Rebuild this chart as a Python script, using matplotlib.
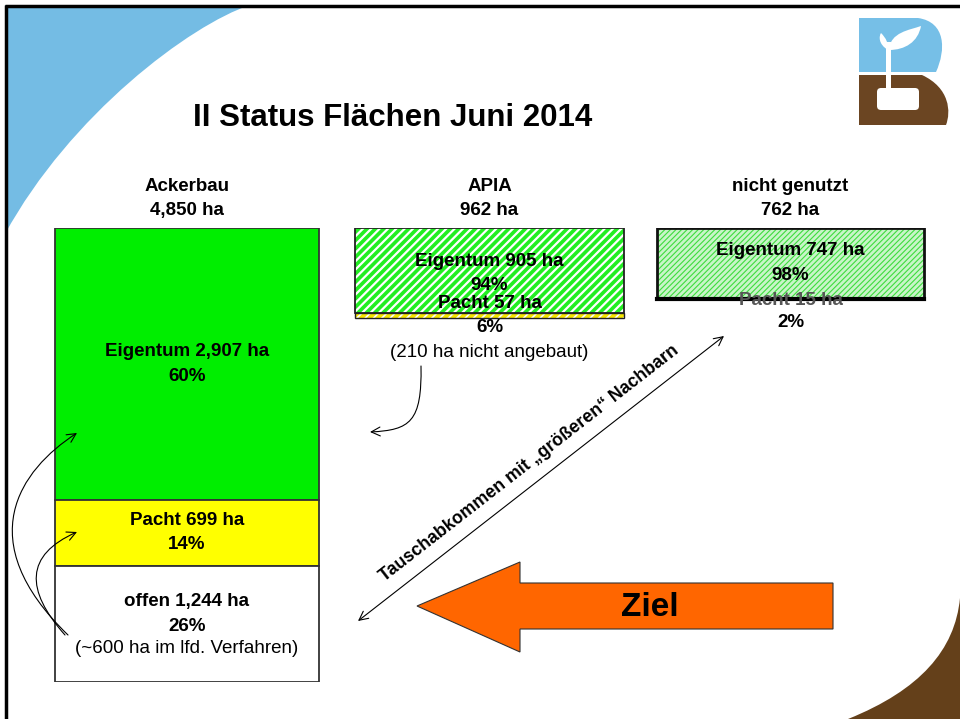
import matplotlib
matplotlib.use("Agg")
import matplotlib.pyplot as plt
import matplotlib.patches as patches
from matplotlib.path import Path

plt.rcParams['font.family'] = ['Liberation Sans', 'DejaVu Sans']

# Data (hectares)
categories = ['Ackerbau', 'APIA', 'nicht genutzt']
totals = [4850, 962, 762]
eigentum = [2907, 905, 747]
pacht = [699, 57, 15]
offen = [1244, 0, 0]
eig_pct = [60, 94, 98]
pacht_pct = [14, 6, 2]
offen_pct = [26, 0, 0]
notes = ['(~600 ha im lfd. Verfahren)', '(210 ha nicht angebaut)', '']

W, H = 960, 719
FS = 13.5
fig = plt.figure(figsize=(9.6, 7.19), dpi=100)

# ---- background / slide decoration (pixel coordinates) ----
bg = fig.add_axes([0, 0, 1, 1])
bg.set_xlim(0, W)
bg.set_ylim(H, 0)
bg.axis('off')

blue = '#74bce4'
brown = '#64401a'

corner = Path([(5, 5), (250, 5), (190, 25), (70, 115), (5, 234), (5, 5)],
              [Path.MOVETO, Path.LINETO, Path.CURVE4, Path.CURVE4, Path.CURVE4, Path.CLOSEPOLY])
bg.add_patch(patches.PathPatch(corner, facecolor=blue, edgecolor='none'))
corner2 = Path([(960, 598), (955, 650), (920, 690), (848, 719), (960, 719), (960, 598)],
               [Path.MOVETO, Path.CURVE4, Path.CURVE4, Path.CURVE4, Path.LINETO, Path.CLOSEPOLY])
bg.add_patch(patches.PathPatch(corner2, facecolor=brown, edgecolor='none'))

# frame
bg.plot([5.5, 5.5], [5, H], color='black', lw=2.5, solid_capstyle='butt')
bg.plot([5, W], [5.5, 5.5], color='black', lw=2.5, solid_capstyle='butt')

# logo
logo_blue = Path([(859, 18), (918, 18), (946, 22), (946, 50), (936, 72), (859, 72), (859, 18)],
                 [Path.MOVETO, Path.LINETO, Path.CURVE4, Path.CURVE4, Path.LINETO, Path.LINETO, Path.CLOSEPOLY])
bg.add_patch(patches.PathPatch(logo_blue, facecolor='#76bfe7', edgecolor='none'))
logo_brown = Path([(859, 75), (922, 75), (950, 88), (951, 112), (946, 125), (859, 125), (859, 75)],
                  [Path.MOVETO, Path.LINETO, Path.CURVE4, Path.CURVE4, Path.LINETO, Path.LINETO, Path.CLOSEPOLY])
bg.add_patch(patches.PathPatch(logo_brown, facecolor='#6b4522', edgecolor='none'))
bg.add_patch(patches.Rectangle((886, 42), 5, 52, facecolor='white', edgecolor='none'))
bg.add_patch(patches.FancyBboxPatch((881, 92), 34, 14, boxstyle='round,pad=4',
                                    facecolor='white', edgecolor='none'))
leaf_r = Path([(889, 50), (890, 32), (910, 30), (921, 26), (918, 42), (905, 50), (889, 50)],
              [Path.MOVETO, Path.CURVE4, Path.CURVE4, Path.CURVE4, Path.CURVE4, Path.CURVE4, Path.CLOSEPOLY])
bg.add_patch(patches.PathPatch(leaf_r, facecolor='white', edgecolor='none'))
leaf_l = Path([(888, 50), (878, 44), (879, 36), (881, 33), (886, 38), (889, 44), (888, 50)],
              [Path.MOVETO, Path.CURVE4, Path.CURVE4, Path.CURVE4, Path.CURVE4, Path.CURVE4, Path.CLOSEPOLY])
bg.add_patch(patches.PathPatch(leaf_l, facecolor='white', edgecolor='none'))

bg.text(193, 118, 'II Status Flächen Juni 2014', fontsize=22.5, fontweight='bold',
        ha='left', va='center')

# ---- stacked bars (hectares, 0 at top) ----
centers = [187, 489.5, 790.5]
widths = [264, 269, 267]
top_px, bot_px = 228, 682
ax = fig.add_axes([0, (H - bot_px) / H, 1, (bot_px - top_px) / H])
ax.set_xlim(0, W)
ax.set_ylim(totals[0], 0)
ax.axis('off')
ax.patch.set_visible(False)

lbl = dict(ha='center', va='center', fontsize=FS, fontweight='bold', linespacing=1.55)

# Ackerbau
ax.bar(centers[0], eigentum[0], width=widths[0], bottom=0, color='#00ee00',
       edgecolor='#333333', lw=1.3)
ax.bar(centers[0], pacht[0], width=widths[0], bottom=eigentum[0], color='#ffff00',
       edgecolor='#333333', lw=1.3)
ax.bar(centers[0], offen[0], width=widths[0], bottom=eigentum[0] + pacht[0], color='white',
       edgecolor='#333333', lw=1.3)
ax.text(centers[0], eigentum[0] / 2, f'Eigentum {eigentum[0]:,} ha\n{eig_pct[0]}%', **lbl)
ax.text(centers[0], eigentum[0] + pacht[0] / 2, f'Pacht {pacht[0]} ha\n{pacht_pct[0]}%', **lbl)
y_off = eigentum[0] + pacht[0] + offen[0] / 2
ax.annotate(f'offen {offen[0]:,} ha\n{offen_pct[0]}%', (centers[0], y_off),
            xytext=(0, 7), textcoords='offset points', **lbl)
ax.annotate(notes[0], (centers[0], y_off), xytext=(0, -17.5), textcoords='offset points',
            ha='center', va='center', fontsize=FS)

# APIA
with plt.rc_context({'hatch.linewidth': 1.6}):
    ax.bar(centers[1], eigentum[1], width=widths[1], bottom=0, color='#22ee22',
           edgecolor='white', lw=0, hatch='////')
with plt.rc_context({'hatch.linewidth': 1.2}):
    ax.bar(centers[1], pacht[1], width=widths[1], bottom=eigentum[1], color='#f5e600',
           edgecolor='white', lw=0, hatch='////')
ax.bar(centers[1], eigentum[1], width=widths[1], bottom=0, fill=False, edgecolor='#222222', lw=1.3)
ax.bar(centers[1], pacht[1], width=widths[1], bottom=eigentum[1], fill=False,
       edgecolor='#222222', lw=1.0)
ax.annotate(f'Eigentum {eigentum[1]} ha\n{eig_pct[1]}%', (centers[1], 0), xytext=(0, -32.5),
            textcoords='offset points', **lbl)
y_p = eigentum[1] + pacht[1] / 2
ax.annotate(f'Pacht {pacht[1]} ha\n{pacht_pct[1]}%', (centers[1], y_p), xytext=(0, 0),
            textcoords='offset points', **lbl)
ax.annotate(notes[1], (centers[1], y_p), xytext=(0, -27), textcoords='offset points',
            ha='center', va='center', fontsize=FS)

# nicht genutzt
ax.annotate(f'Pacht {pacht[2]} ha', (centers[2], totals[2]), xytext=(0, -0.5),
            textcoords='offset points', color='#555555', **lbl)
with plt.rc_context({'hatch.linewidth': 0.8}):
    ax.bar(centers[2], eigentum[2], width=widths[2], bottom=0, color='#c8f5c8',
           edgecolor='#3ddc3d', lw=0, hatch='//////')
ax.bar(centers[2], totals[2], width=widths[2], bottom=0, fill=False, edgecolor='#111111', lw=2.0)
ax.plot([centers[2] - widths[2] / 2, centers[2] + widths[2] / 2], [totals[2], totals[2]],
        color='black', lw=3)
ax.annotate(f'Eigentum {eigentum[2]} ha\n{eig_pct[2]}%', (centers[2], eigentum[2] / 2),
            xytext=(0, 0), textcoords='offset points', **lbl)
ax.annotate(f'{pacht_pct[2]}%', (centers[2], totals[2]), xytext=(0, -16.5),
            textcoords='offset points', **lbl)

# column headers
for c, name, t in zip(centers, categories, totals):
    ax.annotate(f'{name}\n{t:,} ha', (c, 0), xytext=(0, 21.5), textcoords='offset points', **lbl)

# ---- overlay: arrows ----
ov = fig.add_axes([0, 0, 1, 1])
ov.set_xlim(0, W)
ov.set_ylim(H, 0)
ov.axis('off')
ov.patch.set_visible(False)

C4 = [Path.MOVETO, Path.CURVE4, Path.CURVE4, Path.CURVE4]
for pts in ([(68, 635), (-30, 540), (20, 470), (77, 433)],
            [(65, 635), (25, 590), (25, 555), (77, 532)],
            [(421, 366), (422, 422), (410, 430), (370, 432)]):
    ov.add_patch(patches.FancyArrowPatch(path=Path(pts, C4), arrowstyle='->',
                                         mutation_scale=16, lw=0.8, color='black'))

ov.annotate('', xy=(724, 336), xytext=(358, 621),
            arrowprops=dict(arrowstyle='<->', lw=0.8, color='black', mutation_scale=16,
                            shrinkA=0, shrinkB=0))
ov.text(529, 463, 'Tauschabkommen mit \u201egrößeren\u201c Nachbarn', rotation=37.9,
        rotation_mode='anchor', ha='center', va='center', fontsize=12.8, fontweight='bold')

ziel = [(417, 606), (520, 562), (520, 583), (833, 583), (833, 629), (520, 629), (520, 652)]
ov.add_patch(patches.Polygon(ziel, closed=True, facecolor='#ff6600', edgecolor='#333333', lw=0.8))
ov.text(650, 607, 'Ziel', fontsize=24, fontweight='bold', ha='center', va='center')

fig.savefig('out.png', dpi=100, facecolor='white')
